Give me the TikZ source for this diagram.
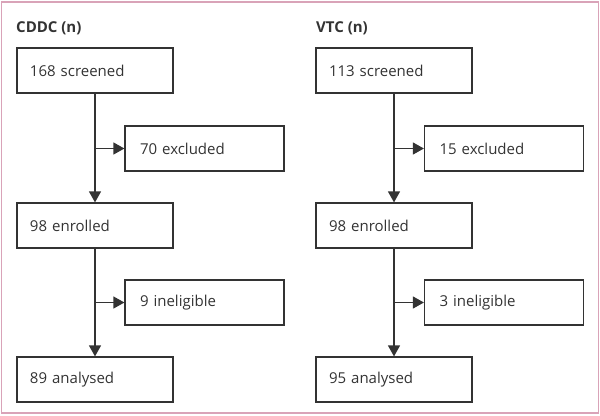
\documentclass[tikz,border=0pt]{standalone}
\usepackage{fontspec}
\setmainfont{Open Sans}
\usetikzlibrary{arrows.meta}
\definecolor{ln}{HTML}{333333}
\definecolor{frame}{HTML}{D9A3B8}
\begin{document}
\begin{tikzpicture}[x=1bp,y=-1bp,
  bigbox/.style={draw=ln, line width=1.2bp, minimum width=156bp, minimum height=45bp,
    inner xsep=13bp, text width=130bp, align=left, font=\fontsize{15bp}{17bp}\selectfont, text=ln},
  smallbox/.style={draw=ln, line width=1.2bp, minimum width=159bp, minimum height=45bp,
    inner xsep=15bp, text width=129bp, align=left, font=\fontsize{15bp}{17bp}\selectfont, text=ln},
  ttl/.style={anchor=west, inner sep=0pt, font=\bfseries\fontsize{15bp}{17bp}\selectfont, text=ln},
  flow/.style={draw=ln, line width=1.2bp, -{Triangle[length=11bp,width=12bp]}}]
\useasboundingbox (0,0) rectangle (600,415);
\draw[frame, line width=1.5bp] (1.5,2) rectangle (598.5,413);
% left column
\node[ttl] (t1) at (16,28) {CDDC (n)};
\node[bigbox] (s1) at (95,70.5) {168 screened};
\node[smallbox] (x1) at (204.5,148.5) {70 excluded};
\node[bigbox] (e1) at (95,225.5) {98 enrolled};
\node[smallbox] (i1) at (204.5,302.5) {9 ineligible};
\node[bigbox] (a1) at (95,379.5) {89 analysed};
\draw[flow] (s1.south) -- (e1.north);
\draw[flow] (s1.south |- x1.west) -- (x1.west);
\draw[flow] (e1.south) -- (a1.north);
\draw[flow] (e1.south |- i1.west) -- (i1.west);
% right column
\node[ttl] (t2) at (316,28) {VTC (n)};
\node[bigbox] (s2) at (394,70.5) {113 screened};
\node[smallbox] (x2) at (504,148.5) {15 excluded};
\node[bigbox] (e2) at (394,225.5) {98 enrolled};
\node[smallbox] (i2) at (504,302.5) {3 ineligible};
\node[bigbox] (a2) at (394,379.5) {95 analysed};
\draw[flow] (s2.south) -- (e2.north);
\draw[flow] (s2.south |- x2.west) -- (x2.west);
\draw[flow] (e2.south) -- (a2.north);
\draw[flow] (e2.south |- i2.west) -- (i2.west);
\end{tikzpicture}
\end{document}
